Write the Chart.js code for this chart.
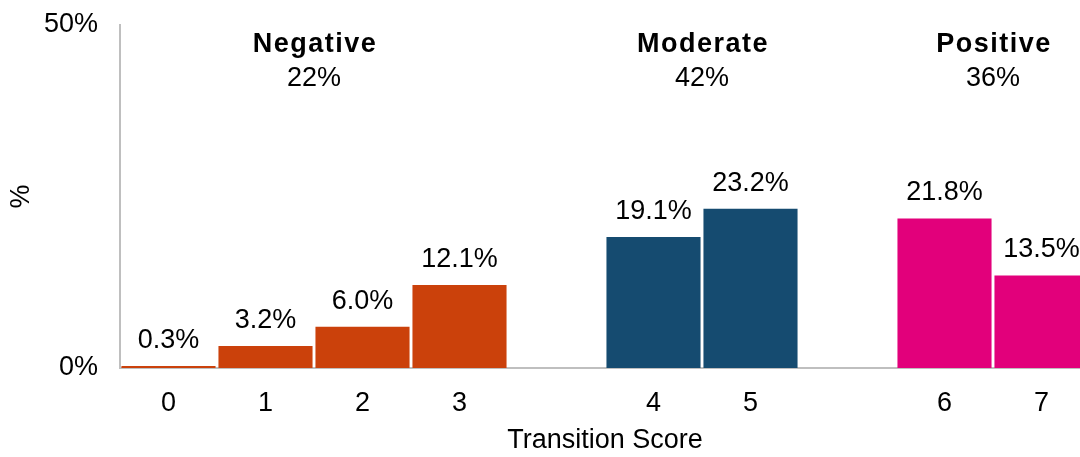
<!DOCTYPE html>
<html>
<head>
<meta charset="utf-8">
<script src="https://cdn.jsdelivr.net/npm/chart.js@4/dist/chart.umd.min.js"></script>
<style>
  html, body { margin: 0; padding: 0; background: #fff; overflow: hidden; }
  #wrap { width: 1080px; height: 457px; overflow: hidden; }
</style>
</head>
<body>
<div id="wrap"><canvas id="chart" width="1100" height="457"></canvas></div>
<script>
// blank slots separate the three groups
const scores = ['0', '1', '2', '3', '', '4', '5', '', '6', '7'];
const shares = [0.3, 3.2, 6.0, 12.1, null, 19.1, 23.2, null, 21.8, 13.5];
const scoreGroup = [0, 0, 0, 0, null, 1, 1, null, 2, 2];

const groupNames = ['Negative', 'Moderate', 'Positive'];
const groupTotals = [22, 42, 36];
const groupColors = ['#CB410B', '#154B70', '#E2007B'];

const FONT = '"Liberation Sans", Arial, sans-serif';
const SIZE = 27;

const barColors = scoreGroup.map(g => g === null ? 'rgba(0,0,0,0)' : groupColors[g]);

// value labels above each bar
const valueLabels = {
  id: 'valueLabels',
  afterDatasetsDraw(chart) {
    const ctx = chart.ctx;
    const meta = chart.getDatasetMeta(0);
    ctx.save();
    ctx.font = SIZE + 'px ' + FONT;
    ctx.fillStyle = '#000';
    ctx.textAlign = 'center';
    ctx.textBaseline = 'alphabetic';
    meta.data.forEach((bar, i) => {
      if (shares[i] === null) return;
      ctx.fillText(shares[i].toFixed(1) + '%', bar.x, bar.y - 18);
    });
    ctx.restore();
  }
};

// group names and totals across the top
const groupHeaders = {
  id: 'groupHeaders',
  afterDraw(chart) {
    const ctx = chart.ctx;
    const x = chart.scales.x;
    ctx.save();
    ctx.fillStyle = '#000';
    ctx.textAlign = 'center';
    ctx.textBaseline = 'alphabetic';
    groupNames.forEach((name, g) => {
      const idx = scoreGroup.map((v, i) => v === g ? i : -1).filter(i => i >= 0);
      const cx = (x.getPixelForValue(idx[0]) + x.getPixelForValue(idx[idx.length - 1])) / 2;
      ctx.font = 'bold ' + SIZE + 'px ' + FONT;
      ctx.letterSpacing = '1.5px';
      ctx.fillText(name, cx + 1, 52);
      ctx.letterSpacing = '0px';
      ctx.font = SIZE + 'px ' + FONT;
      ctx.fillText(groupTotals[g] + '%', cx, 86);
    });
    ctx.restore();
  }
};

new Chart('chart', {
  type: 'bar',
  data: {
    labels: scores,
    datasets: [{
      data: shares,
      backgroundColor: barColors,
      borderWidth: 0,
      barPercentage: 0.97,
      categoryPercentage: 1.0
    }]
  },
  options: {
    responsive: false,
    animation: false,
    layout: { padding: { top: 25, right: 10, left: 0, bottom: 0 } },
    plugins: {
      legend: { display: false },
      tooltip: { enabled: false }
    },
    scales: {
      x: {
        grid: { display: false, drawTicks: false },
        border: { display: true, color: '#BFBFBF', width: 2 },
        ticks: { color: '#000', font: { family: FONT, size: SIZE }, padding: 19 },
        title: {
          display: true,
          text: 'Transition Score',
          color: '#000',
          font: { family: FONT, size: SIZE },
          padding: { top: 0, bottom: 0 }
        },
        afterFit(scale) { scale.height = 89; }
      },
      y: {
        min: 0,
        max: 50,
        grid: { display: false, drawTicks: false },
        border: { display: true, color: '#BFBFBF', width: 2 },
        ticks: {
          stepSize: 50,
          color: '#000',
          font: { family: FONT, size: SIZE },
          padding: 22,
          callback: v => v + '%'
        },
        title: {
          display: true,
          text: '%',
          color: '#000',
          font: { family: FONT, size: SIZE },
          padding: { top: 5, bottom: 0 }
        },
        afterFit(scale) {
          scale.width = 120;
          scale.paddingTop = 0;
          scale.paddingBottom = 0;
        }
      }
    }
  },
  plugins: [valueLabels, groupHeaders]
});
</script>
</body>
</html>
